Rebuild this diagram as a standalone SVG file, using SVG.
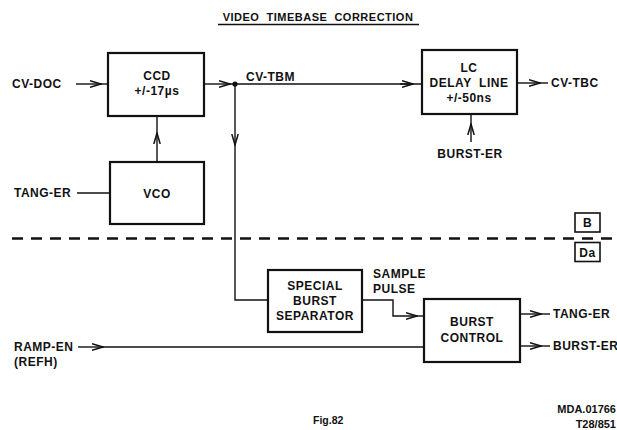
<svg xmlns="http://www.w3.org/2000/svg" width="617" height="430" viewBox="0 0 617 430">
<defs>
<style>
text{font-family:"Liberation Sans",Arial,sans-serif;font-size:12px;font-weight:bold;fill:#111;letter-spacing:0.5px}
.c{text-anchor:middle}
.r{text-anchor:end}
.box{fill:#fff;stroke:#111;stroke-width:2.2}
.sbox{fill:#fff;stroke:#111;stroke-width:1.6}
.ln{fill:none;stroke:#111;stroke-width:1.4}
.dash{fill:none;stroke:#111;stroke-width:2.6;stroke-dasharray:11 8}
</style>
<marker id="ah" viewBox="0 0 12 8" refX="11" refY="4" markerWidth="12" markerHeight="8" markerUnits="userSpaceOnUse" orient="auto">
<path d="M0,0.8 L11,4 L0,7.2" fill="none" stroke="#111" stroke-width="1.5"/>
</marker>
</defs>
<rect width="617" height="430" fill="#fff"/>
<g id="title">
<text x="318" y="21" class="c" style="white-space:pre;font-size:11px">VIDEO  TIMEBASE  CORRECTION</text>
<path class="ln" d="M218,24.5 H419" stroke-width="1.2"/>
</g>
<g id="connectors">
<path class="ln" d="M76,84 H101" marker-end="url(#ah)"/>
<path class="ln" d="M100,84 H108"/>
<path class="ln" d="M204,84 H230" marker-end="url(#ah)"/>
<path class="ln" d="M229,84 H422"/>
<path class="ln" d="M400,84 H413" marker-end="url(#ah)"/>
<circle cx="235" cy="84" r="2.6" fill="#111"/>
<path class="ln" d="M235,84 V145" marker-end="url(#ah)"/>
<path class="ln" d="M235,144 V300 H268"/>
<path class="ln" d="M157,162 V133" marker-end="url(#ah)"/>
<path class="ln" d="M157,134 V116"/>
<path class="ln" d="M77,193 H110"/>
<path class="ln" d="M517,83 H540" marker-end="url(#ah)"/>
<path class="ln" d="M539,83 H548"/>
<path class="ln" d="M471,142 V124" marker-end="url(#ah)"/>
<path class="ln" d="M471,125 V114"/>
<path class="ln" d="M362,300 H393 V316 H417" marker-end="url(#ah)"/>
<path class="ln" d="M416,316 H424"/>
<path class="ln" d="M78,347 H103" marker-end="url(#ah)"/>
<path class="ln" d="M102,347 H424"/>
<path class="ln" d="M520,314 H541" marker-end="url(#ah)"/>
<path class="ln" d="M540,314 H550"/>
<path class="ln" d="M520,346 H541" marker-end="url(#ah)"/>
<path class="ln" d="M540,346 H550"/>
<path class="dash" d="M12,238.5 H617"/>
</g>
<g id="ccd">
<rect class="box" x="108" y="53" width="96" height="63"/>
<text x="157" y="80" class="c">CCD</text>
<text x="157" y="95" class="c">+/-17µs</text>
</g>
<g id="vco">
<rect class="box" x="110" y="162" width="94" height="62"/>
<text x="157" y="198" class="c">VCO</text>
</g>
<g id="lc">
<rect class="box" x="422" y="50" width="95" height="64"/>
<text x="469" y="72" class="c">LC</text>
<text x="469" y="87" class="c" style="white-space:pre">DELAY  LINE</text>
<text x="469" y="102" class="c">+/-50ns</text>
</g>
<g id="separator">
<rect class="box" x="268" y="270" width="94" height="62"/>
<text x="315" y="290" class="c">SPECIAL</text>
<text x="315" y="305" class="c">BURST</text>
<text x="315" y="320" class="c">SEPARATOR</text>
</g>
<g id="burstcontrol">
<rect class="box" x="424" y="299" width="96" height="63"/>
<text x="472" y="326" class="c">BURST</text>
<text x="472" y="342" class="c">CONTROL</text>
</g>
<g id="b">
<rect class="sbox" x="575" y="213" width="25" height="19"/>
<text x="587.5" y="227" class="c">B</text>
</g>
<g id="da">
<rect class="sbox" x="575" y="242.5" width="25" height="19"/>
<text x="587.5" y="256.5" class="c">Da</text>
</g>
<g id="labels">
<text x="12" y="88">CV-DOC</text>
<text x="14" y="197">TANG-ER</text>
<text x="246" y="81">CV-TBM</text>
<text x="551" y="87">CV-TBC</text>
<text x="470" y="158" class="c">BURST-ER</text>
<text x="373" y="278">SAMPLE</text>
<text x="373" y="293">PULSE</text>
<text x="553" y="318">TANG-ER</text>
<text x="553" y="350">BURST-ER</text>
<text x="14" y="351">RAMP-EN</text>
<text x="14" y="366">(REFH)</text>
<text x="313" y="424" style="font-size:10.5px;letter-spacing:0">Fig.82</text>
<text x="616" y="413" class="r" style="font-size:11px;letter-spacing:0">MDA.01766</text>
<text x="616" y="428" class="r" style="font-size:11px;letter-spacing:0">T28/851</text>
</g>
</svg>
